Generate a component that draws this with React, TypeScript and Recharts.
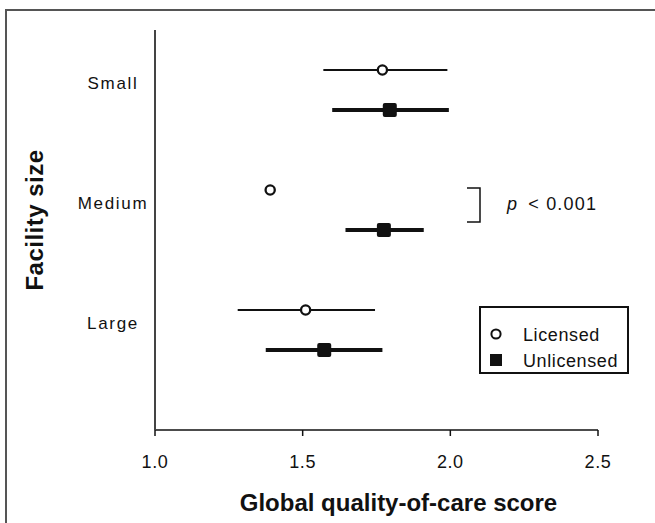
import { ScatterChart, Scatter, XAxis, YAxis, ErrorBar, Legend } from 'recharts';

const categories = ['Small', 'Medium', 'Large'];
const licensedMean = [1.77, 1.39, 1.51];
const licensedLow = [1.57, 1.39, 1.28];
const licensedHigh = [1.99, 1.39, 1.745];
const unlicensedMean = [1.795, 1.775, 1.573];
const unlicensedLow = [1.6, 1.645, 1.375];
const unlicensedHigh = [1.995, 1.91, 1.77];
const xTicks = [1.0, 1.5, 2.0, 2.5];

const FONT = '"Liberation Sans", Arial, Helvetica, sans-serif';

// each category occupies 3 units on the y scale, licensed above, unlicensed below
const rowCenter = (i: number) => (categories.length - i) * 3 - 0.5;

const licensedData = categories.map((c, i) => ({
  name: c,
  x: licensedMean[i],
  y: rowCenter(i) + 0.5,
  err: [licensedMean[i] - licensedLow[i], licensedHigh[i] - licensedMean[i]],
}));

const unlicensedData = categories.map((c, i) => ({
  name: c,
  x: unlicensedMean[i],
  y: rowCenter(i) - 0.5,
  err: [unlicensedMean[i] - unlicensedLow[i], unlicensedHigh[i] - unlicensedMean[i]],
}));

const OpenCircle = ({ cx, cy }: any) => (
  <circle cx={cx} cy={cy} r={4.6} fill="#fff" stroke="#111" strokeWidth={2.3} />
);

const FilledSquare = ({ cx, cy }: any) => (
  <rect x={cx - 7} y={cy - 7} width={14} height={14} rx={2} fill="#111" />
);

const CategoryTick = ({ y, payload }: any) => {
  const idx = categories.findIndex((_, i) => rowCenter(i) === payload.value);
  return (
    <text x={113} y={y} dy={-1} textAnchor="middle" fontFamily={FONT} fontSize={17}
      letterSpacing={1.7} fill="#111">
      {categories[idx]}
    </text>
  );
};

const ValueTick = ({ x, y, payload }: any) => (
  <text x={x} y={y} dy={30} textAnchor="middle" fontFamily={FONT} fontSize={18}
    letterSpacing={0.6} fill="#111">
    {Number(payload.value).toFixed(1)}
  </text>
);

const LegendBox = () => (
  <div style={{
    position: 'absolute', left: 479, top: 306, width: 146, height: 64,
    border: '2px solid #111', background: '#fff',
  }}>
    <svg width={146} height={64} style={{ position: 'absolute', left: 0, top: 0 }}>
      <circle cx={15} cy={26} r={4.6} fill="#fff" stroke="#111" strokeWidth={2} />
      <rect x={9} y={46} width={12} height={12} fill="#111" />
      <text x={42} y={33} fontFamily={FONT} fontSize={18} letterSpacing={0.6} fill="#111">Licensed</text>
      <text x={42} y={59} fontFamily={FONT} fontSize={18} letterSpacing={0.6} fill="#111">Unlicensed</text>
    </svg>
  </div>
);

export default function App() {
  return (
    <div style={{ position: 'absolute', left: 0, top: 0, width: 655, height: 523, overflow: 'hidden', background: '#fff' }}>
      <div style={{
        position: 'absolute', left: 5, top: 9, width: 700, height: 600,
        borderLeft: '2px solid #555', borderTop: '2px solid #555',
      }} />
      <ScatterChart width={655} height={523} margin={{ top: 30, right: 57, bottom: 0, left: 0 }}
        style={{ position: 'absolute', left: 0, top: 0 }}>
        <XAxis
          type="number"
          dataKey="x"
          domain={[1, 2.5]}
          ticks={xTicks}
          height={93}
          tickSize={6}
          stroke="#111"
          strokeWidth={1.5}
          tick={<ValueTick />}
          label={{
            content: ({ viewBox }: any) => (
              <text x={viewBox.x + viewBox.width / 2 + 22} y={viewBox.y + 81} textAnchor="middle"
                fontFamily={FONT} fontWeight="bold" fontSize={24} fill="#111">
                Global quality-of-care score
              </text>
            ),
          }}
        />
        <YAxis
          type="number"
          dataKey="y"
          domain={[0, 10]}
          ticks={categories.map((_, i) => rowCenter(i))}
          width={155}
          tickLine={false}
          axisLine={{ stroke: '#444', strokeWidth: 2 }}
          tick={<CategoryTick />}
          label={{
            content: ({ viewBox }: any) => (
              <text x={0} y={0} transform={`translate(34, ${viewBox.y + viewBox.height / 2 - 10}) rotate(-90)`}
                textAnchor="middle" dominantBaseline="central" letterSpacing={0.5}
                fontFamily={FONT} fontWeight="bold" fontSize={24} fill="#111">
                Facility size
              </text>
            ),
          }}
        />
        <Scatter name="Licensed" data={licensedData} shape={<OpenCircle />} isAnimationActive={false}>
          <ErrorBar dataKey="err" direction="x" width={0} stroke="#111" strokeWidth={2} />
        </Scatter>
        <Scatter name="Unlicensed" data={unlicensedData} shape={<FilledSquare />} isAnimationActive={false}>
          <ErrorBar dataKey="err" direction="x" width={0} stroke="#111" strokeWidth={4} />
        </Scatter>
        <Legend content={() => null} />
      </ScatterChart>
      <svg width={655} height={523} style={{ position: 'absolute', left: 0, top: 0, pointerEvents: 'none' }}>
        <path d="M467 188 H480 V222 H467" fill="none" stroke="#111" strokeWidth={1.5} />
        <text x={507} y={210} fontFamily={FONT} fontSize={18} letterSpacing={1.2} fill="#111">
          <tspan fontStyle="italic">p</tspan>
          <tspan dx={10}>{'< 0.001'}</tspan>
        </text>
      </svg>
      <LegendBox />
    </div>
  );
}
